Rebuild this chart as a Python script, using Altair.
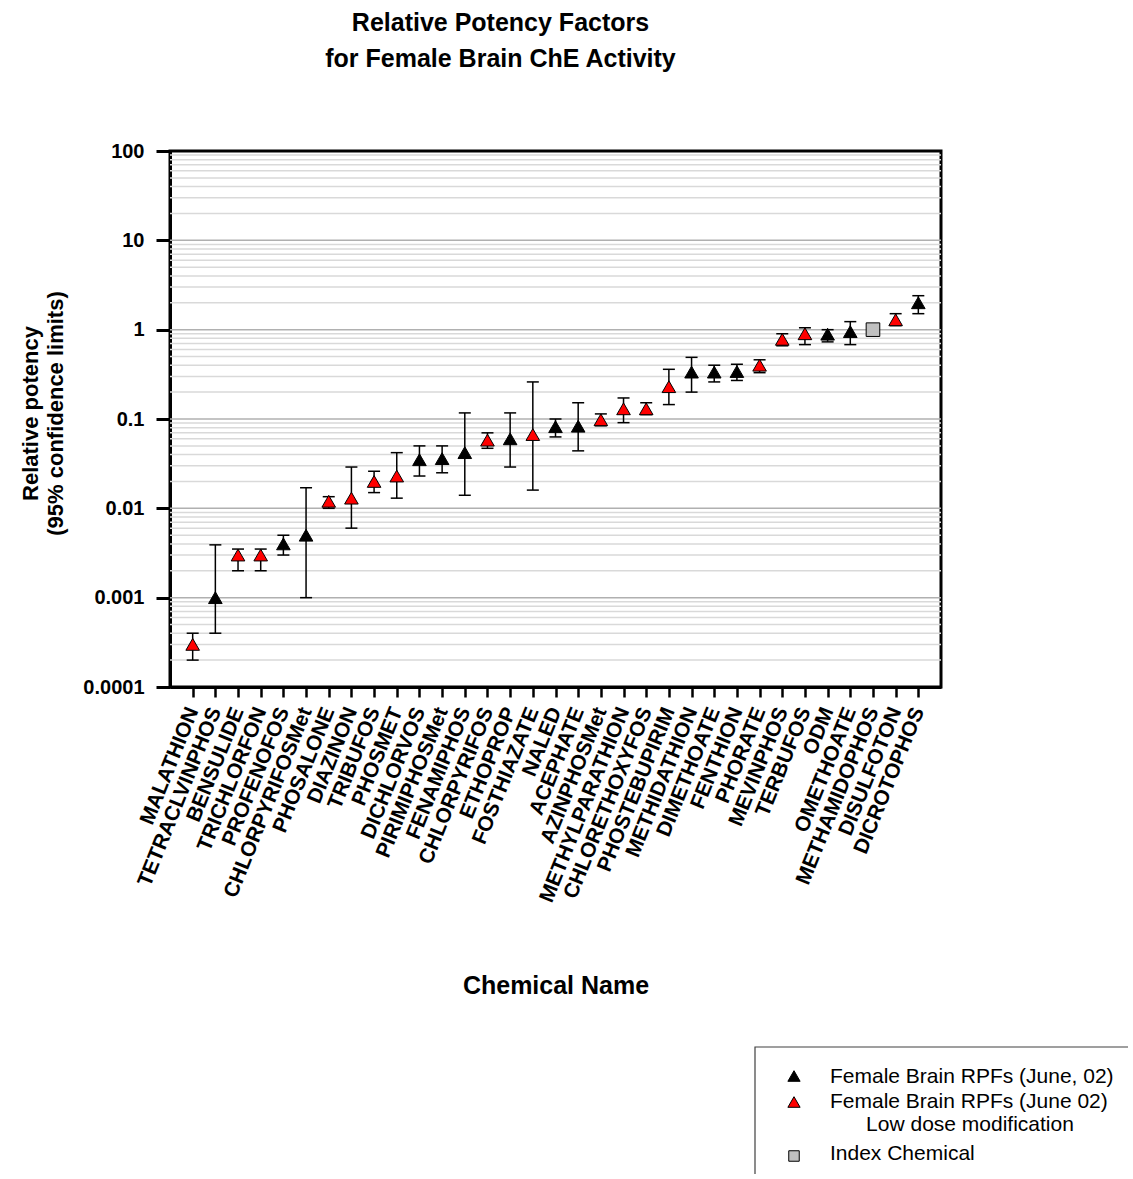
import altair as alt
import pandas as pd

# Chemicals in order of increasing relative potency
chemicals = [
    "MALATHION", "TETRACLVINPHOS", "BENSULIDE", "TRICHLORFON", "PROFENOFOS",
    "CHLORPYRIFOSMet", "PHOSALONE", "DIAZINON", "TRIBUFOS", "PHOSMET",
    "DICHLORVOS", "PIRIMIPHOSMet", "FENAMIPHOS", "CHLORPYRIFOS", "ETHOPROP",
    "FOSTHIAZATE", "NALED", "ACEPHATE", "AZINPHOSMet", "METHYLPARATHION",
    "CHLORETHOXYFOS", "PHOSTEBUPIRIM", "METHIDATHION", "DIMETHOATE", "FENTHION",
    "PHORATE", "MEVINPHOS", "TERBUFOS", "ODM", "OMETHOATE",
    "METHAMIDOPHOS", "DISULFOTON", "DICROTOPHOS",
]

# Relative potency factor and 95% confidence limits
rpf = [
    0.0003, 0.001, 0.003, 0.003, 0.004,
    0.005, 0.012, 0.013, 0.020, 0.023,
    0.035, 0.036, 0.042, 0.058, 0.060,
    0.067, 0.082, 0.083, 0.098, 0.130,
    0.130, 0.23, 0.335, 0.335, 0.34,
    0.40, 0.78, 0.90, 0.89, 0.95,
    1.0, 1.29, 2.0,
]
lower = [
    0.0002, 0.0004, 0.002, 0.002, 0.003,
    0.001, 0.010, 0.006, 0.015, 0.013,
    0.023, 0.025, 0.014, 0.047, 0.029,
    0.016, 0.063, 0.044, 0.084, 0.091,
    0.112, 0.145, 0.20, 0.26, 0.27,
    0.33, 0.66, 0.68, 0.73, 0.68,
    None, 1.11, 1.51,
]
upper = [
    0.0004, 0.0039, 0.0035, 0.0035, 0.005,
    0.017, 0.0135, 0.029, 0.026, 0.042,
    0.050, 0.050, 0.117, 0.070, 0.117,
    0.26, 0.100, 0.152, 0.114, 0.172,
    0.152, 0.36, 0.49, 0.40, 0.41,
    0.46, 0.90, 1.05, 1.00, 1.23,
    None, 1.51, 2.40,
]
# "june" = Female Brain RPFs (June, 02); "low" = low dose modification; "index" = index chemical
series = [
    "low", "june", "low", "low", "june",
    "june", "low", "low", "low", "low",
    "june", "june", "june", "low", "june",
    "low", "june", "june", "low", "low",
    "low", "low", "june", "june", "june",
    "low", "low", "low", "june", "june",
    "index", "low", "june",
]

y_ticks = [0.0001, 0.001, 0.01, 0.1, 1, 10, 100]
minor_grid = [m * d for d in [0.0001, 0.001, 0.01, 0.1, 1, 10] for m in range(2, 10)]
major_grid = [0.001, 0.01, 0.1, 1, 10]

FONT = "Liberation Sans"

df = pd.DataFrame({
    "chemical": chemicals, "rpf": rpf, "lower": lower, "upper": upper, "series": series,
})

yscale = alt.Scale(type="log", domain=[0.0001, 100], nice=False)
xscale = alt.Scale(type="point", padding=1)

x_axis = alt.Axis(
    title="Chemical Name", titleFont=FONT, titleFontSize=25, titleFontWeight="bold",
    titleColor="black", titleY=306, titleBaseline="alphabetic",
    labelAngle=-68, labelAlign="right", labelBaseline="middle",
    labelFont=FONT, labelFontSize=21, labelFontWeight="bold", labelColor="black",
    labelPadding=11, labelLimit=400, labelOverlap=False,
    tickSize=10, tickWidth=2.5, tickColor="black",
    domainColor="black", domainWidth=3, grid=False,
)
y_axis = alt.Axis(
    values=y_ticks, format="~g",
    title=["Relative potency", "(95% confidence limits)"],
    titleFont=FONT, titleFontSize=22, titleFontWeight="bold", titleColor="black",
    titleAngle=270, titleAlign="center", titleBaseline="middle",
    titleLineHeight=25, titleX=-140, titleY=262,
    labelFont=FONT, labelFontSize=20, labelFontWeight="bold", labelColor="black",
    labelPadding=12, tickSize=14, tickWidth=3, tickColor="black",
    domainColor="black", domainWidth=3, grid=False,
)


def xenc():
    return alt.X("chemical:N", sort=chemicals, scale=xscale, axis=x_axis)


def yenc(field):
    return alt.Y(field, type="quantitative", scale=yscale, axis=y_axis)


grid_minor = alt.Chart(pd.DataFrame({"v": minor_grid})).mark_rule(
    color="#d9d9d9", strokeWidth=1.5
).encode(y=yenc("v"))

grid_major = alt.Chart(pd.DataFrame({"v": major_grid})).mark_rule(
    color="#b0b0b0", strokeWidth=1.5
).encode(y=yenc("v"))

bars = alt.Chart(df).transform_filter("isValid(datum.lower)")

err_line = bars.mark_rule(color="black", strokeWidth=1.5).encode(
    x=xenc(), y=yenc("lower"), y2="upper:Q"
)
cap = dict(shape="M-1,0L1,0", size=144, filled=False, stroke="black",
           strokeWidth=1.5, opacity=1)
cap_lo = bars.mark_point(**cap).encode(x=xenc(), y=yenc("lower"))
cap_hi = bars.mark_point(**cap).encode(x=xenc(), y=yenc("upper"))

points = alt.Chart(df).mark_point(
    filled=True, stroke="black", strokeWidth=1, opacity=1
).encode(
    x=xenc(),
    y=yenc("rpf"),
    fill=alt.Fill("series:N", legend=None, scale=alt.Scale(
        domain=["june", "low", "index"], range=["black", "#ff0000", "#c0c0c0"])),
    shape=alt.Shape("series:N", legend=None, scale=alt.Scale(
        domain=["june", "low", "index"], range=["triangle-up", "triangle-up", "square"])),
    size=alt.Size("series:N", legend=None, scale=alt.Scale(
        domain=["june", "low", "index"], range=[185, 185, 125])),
)

# Key box below the plot
one = pd.DataFrame({"k": [0]})
key_box = alt.Chart(one).mark_rect(fill="white", stroke="#404040", strokeWidth=1.2).encode(
    x=alt.value(585), x2=alt.value(1000), y=alt.value(896), y2=alt.value(1060)
)
key_june = alt.Chart(one).mark_point(
    shape="triangle-up", filled=True, fill="black", stroke="black", strokeWidth=1,
    size=150, opacity=1).encode(x=alt.value(624), y=alt.value(925))
key_low = alt.Chart(one).mark_point(
    shape="triangle-up", filled=True, fill="#ff0000", stroke="black", strokeWidth=1,
    size=150, opacity=1).encode(x=alt.value(624), y=alt.value(951))
key_index = alt.Chart(one).mark_point(
    shape="square", filled=True, fill="#c0c0c0", stroke="black", strokeWidth=1,
    size=110, opacity=1).encode(x=alt.value(624), y=alt.value(1005))


def key_text(text, x, y, align="left"):
    return alt.Chart(one).mark_text(
        text=text, font=FONT, fontSize=21, color="black", align=align, baseline="alphabetic"
    ).encode(x=alt.value(x), y=alt.value(y))


key_texts = [
    key_text("Female Brain RPFs (June, 02)", 660, 932),
    key_text("Female Brain RPFs (June 02)", 660, 957),
    key_text("Low dose modification", 800, 980, align="center"),
    key_text("Index Chemical", 660, 1009),
]

chart = alt.layer(
    grid_minor, grid_major, err_line, cap_lo, cap_hi, points,
    key_box, key_june, key_low, key_index, *key_texts,
).properties(
    width=771,
    height=536,
    autosize=alt.AutoSizeParams(type="none"),
    padding={"left": 170, "top": 151, "right": 187, "bottom": 487},
    background="white",
    title=alt.TitleParams(
        text=["Relative Potency Factors", "for Female Brain ChE Activity"],
        font=FONT, fontSize=25, fontWeight="bold", color="black",
        lineHeight=36, anchor="middle", frame="group", dx=-55,
        baseline="alphabetic", offset=49,
    ),
).configure_view(stroke="black", strokeWidth=3)

chart.save("out.html", embed_options={"renderer": "svg", "actions": False})
